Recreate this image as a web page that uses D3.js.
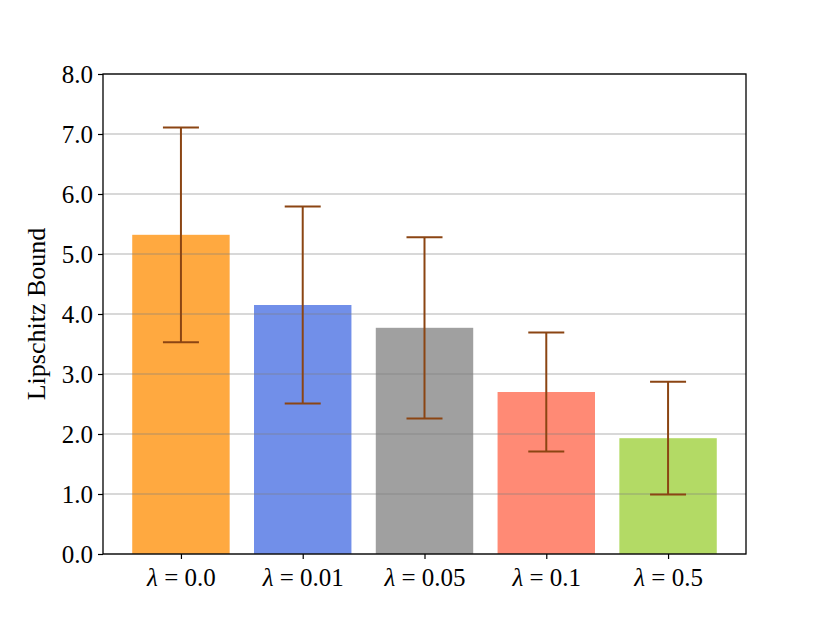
<!DOCTYPE html>
<html>
<head>
<meta charset="utf-8">
<script src="https://cdn.jsdelivr.net/npm/d3@7"></script>
<style>
  body { margin: 0; background: #fff; }
  text { font-family: "Liberation Serif", "DejaVu Serif", serif; }
</style>
</head>
<body>
<div id="chart"></div>
<script>
// data
var lambdas = ["0.0", "0.01", "0.05", "0.1", "0.5"];
var means = [5.32, 4.15, 3.77, 2.70, 1.93];
var errs = [1.79, 1.64, 1.51, 0.99, 0.94];
var barColors = ["#ff8c00", "#4169e1", "#808080", "#ff6347", "#9acd32"];
var yTicks = [0, 1, 2, 3, 4, 5, 6, 7, 8];

var W = 830, H = 623;
var margin = {top: 74, right: 84, bottom: 69, left: 103},
    width = W - margin.left - margin.right,
    height = H - margin.top - margin.bottom;

var svg = d3.select("#chart")
  .append("svg")
    .attr("width", W)
    .attr("height", H)
  .append("g")
    .attr("transform", "translate(" + margin.left + "," + margin.top + ")");

// x positions like matplotlib: bars at 0..4, width 0.8, 5% margins
var x = d3.scaleLinear().domain([-0.64, 4.64]).range([0, width]);
var y = d3.scaleLinear().domain([0, 8]).range([height, 0]);
var bw = x(0.8) - x(0);

// bars
svg.append("g")
  .selectAll("rect")
  .data(means)
  .enter().append("rect")
    .attr("x", function(d, i) { return x(i) - bw / 2; })
    .attr("y", function(d) { return y(d); })
    .attr("width", bw)
    .attr("height", function(d) { return height - y(d); })
    .attr("fill", function(d, i) { return barColors[i]; })
    .attr("fill-opacity", 0.75);

// grid on top of bars
svg.append("g")
  .selectAll("line")
  .data(yTicks)
  .enter().append("line")
    .attr("x1", 0).attr("x2", width)
    .attr("y1", function(d) { return y(d); })
    .attr("y2", function(d) { return y(d); })
    .attr("stroke", "#808080")
    .attr("stroke-opacity", 0.6)
    .attr("stroke-width", 1.2);

// error bars
var cap = 18;
var eb = svg.append("g").selectAll("g")
  .data(means)
  .enter().append("g")
    .attr("stroke", "#8b4513")
    .attr("stroke-width", 2);
eb.append("line")
  .attr("x1", function(d, i) { return x(i); })
  .attr("x2", function(d, i) { return x(i); })
  .attr("y1", function(d, i) { return y(d + errs[i]); })
  .attr("y2", function(d, i) { return y(d - errs[i]); });
eb.append("line")
  .attr("x1", function(d, i) { return x(i) - cap; })
  .attr("x2", function(d, i) { return x(i) + cap; })
  .attr("y1", function(d, i) { return y(d + errs[i]); })
  .attr("y2", function(d, i) { return y(d + errs[i]); });
eb.append("line")
  .attr("x1", function(d, i) { return x(i) - cap; })
  .attr("x2", function(d, i) { return x(i) + cap; })
  .attr("y1", function(d, i) { return y(d - errs[i]); })
  .attr("y2", function(d, i) { return y(d - errs[i]); });

// frame
svg.append("rect")
  .attr("width", width).attr("height", height)
  .attr("fill", "none")
  .attr("stroke", "#000")
  .attr("stroke-width", 1.3);

// Y axis
var yAxis = svg.append("g")
  .call(d3.axisLeft(y).tickValues(yTicks).tickFormat(d3.format(".1f")).tickSize(5).tickSizeOuter(0));
yAxis.select(".domain").remove();
yAxis.selectAll("line").attr("stroke", "#000").attr("stroke-width", 1.2);
yAxis.selectAll("text")
  .attr("x", -10)
  .attr("dy", "0.34em")
  .style("font-size", "25px")
  .style("fill", "#000");

// X axis
var xAxis = svg.append("g")
  .attr("transform", "translate(0," + height + ")")
  .call(d3.axisBottom(x).tickValues(d3.range(lambdas.length)).tickSize(5).tickSizeOuter(0)
    .tickFormat(function() { return ""; }));
xAxis.select(".domain").remove();
xAxis.selectAll("line").attr("stroke", "#000").attr("stroke-width", 1.2);
xAxis.selectAll(".tick text").remove();
xAxis.selectAll(".tick").append("text")
  .attr("y", 32)
  .attr("text-anchor", "middle")
  .style("font-size", "25px")
  .style("fill", "#000")
  .each(function(d) {
    var t = d3.select(this);
    t.append("tspan").style("font-style", "italic").text("λ");
    t.append("tspan").text(" = " + lambdas[d]);
  });

// y label
svg.append("text")
  .attr("transform", "rotate(-90)")
  .attr("x", -240)
  .attr("y", -margin.left + 45)
  .style("text-anchor", "middle")
  .style("font-size", "26px")
  .style("fill", "#000")
  .text("Lipschitz Bound");
</script>
</body>
</html>
